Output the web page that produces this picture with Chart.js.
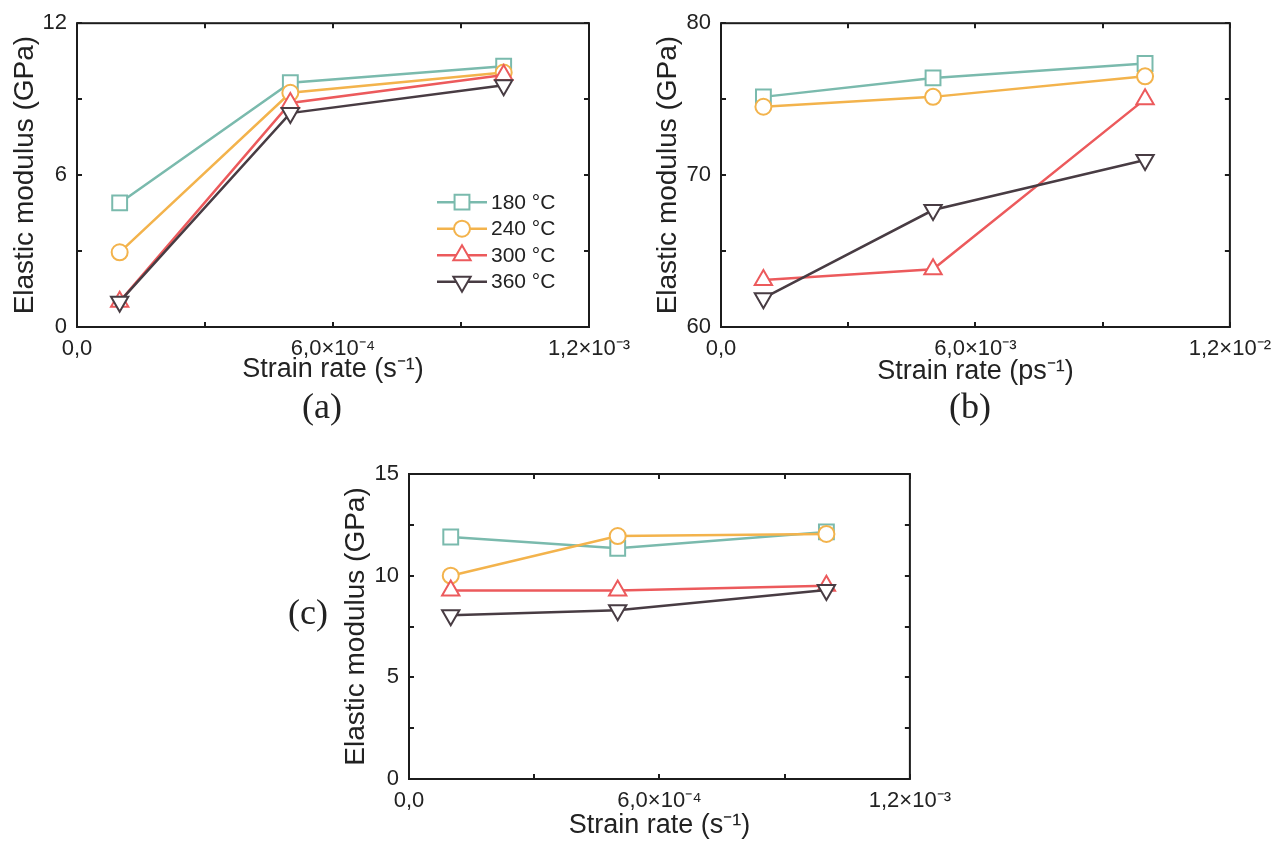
<!DOCTYPE html>
<html>
<head>
<meta charset="utf-8">
<title>Elastic modulus vs strain rate</title>
<script src="https://cdn.jsdelivr.net/npm/chart.js@4.4.1/dist/chart.umd.min.js"></script>
<style>
  body { margin: 0; background: #fff; }
  #page { position: relative; width: 1280px; height: 842px; overflow: hidden; background: #fff; }
  #page canvas { position: absolute; }
  .tag {
    position: absolute;
    font-family: 'Liberation Serif', 'Times New Roman', serif;
    font-size: 36px;
    color: #222;
    transform: translate(-50%, -50%);
  }
</style>
</head>
<body>
<div id="page">
  <canvas id="chart-a" width="660" height="400" style="left:0;top:0"></canvas>
  <canvas id="chart-b" width="640" height="400" style="left:640px;top:0"></canvas>
  <canvas id="chart-c" width="640" height="392" style="left:320px;top:450px"></canvas>
  <div class="tag" style="left:322px;top:406px">(a)</div>
  <div class="tag" style="left:970px;top:406px">(b)</div>
  <div class="tag" style="left:308px;top:612px">(c)</div>
</div>
<script>
/*********************************/
// series shared by the three panels
const SERIES = ['180 °C', '240 °C', '300 °C', '360 °C'];
const COLORS = ['#7abaad', '#f3b34c', '#ec5a5c', '#483c43'];
const POINT_STYLES = ['rect', 'circle', 'triangle', 'triangle'];
const POINT_ROT = [0, 0, 0, 180];
const POINT_RADIUS = [10.5, 8, 10, 10];

// (a) experimental, strain rate in s^-1
const RATE_A = [1e-4, 5e-4, 1e-3];
const MOD_A_180 = [4.9, 9.65, 10.3];
const MOD_A_240 = [2.95, 9.25, 10.05];
const MOD_A_300 = [1.0, 8.85, 9.95];
const MOD_A_360 = [1.0, 8.45, 9.55];

// (b) simulation, strain rate in ps^-1
const RATE_B = [1e-3, 5e-3, 1e-2];
const MOD_B_180 = [75.15, 76.4, 77.35];
const MOD_B_240 = [74.5, 75.15, 76.5];
const MOD_B_300 = [63.1, 63.8, 75.0];
const MOD_B_360 = [61.9, 67.7, 71.0];

// (c) strain rate in s^-1
const RATE_C = [1e-4, 5e-4, 1e-3];
const MOD_C_180 = [11.9, 11.35, 12.15];
const MOD_C_240 = [10.0, 11.95, 12.05];
const MOD_C_300 = [9.27, 9.27, 9.5];
const MOD_C_360 = [8.05, 8.3, 9.3];

// tick labels (empty = minor tick)
const X_TICKS_S = ['0,0', '', '6,0×10⁻⁴', '', '1,2×10⁻³'];
const X_TICKS_PS = ['0,0', '', '6,0×10⁻³', '', '1,2×10⁻²'];
const Y_TICKS_A = ['0', '', '6', '', '12'];
const Y_TICKS_B = ['60', '', '70', '', '80'];
const Y_TICKS_C = ['0', '', '5', '', '10', '', '15'];

const Y_TITLE = 'Elastic modulus (GPa)';
const X_TITLE_S = 'Strain rate (s⁻¹)';
const X_TITLE_PS = 'Strain rate (ps⁻¹)';

Chart.defaults.font.family = "'Liberation Sans', Arial, sans-serif";
Chart.defaults.color = '#222';

const TICK_LEN = 5;

// box with inward ticks on all four sides
const framePlugin = {
    id: 'frame',
    afterDraw(chart) {
        const { ctx, chartArea: a, scales: { x, y } } = chart;
        ctx.save();
        ctx.strokeStyle = '#1c1c1c';
        ctx.lineWidth = 2;
        ctx.strokeRect(a.left, a.top, a.right - a.left, a.bottom - a.top);
        ctx.beginPath();
        x.ticks.forEach(t => {
            const px = Math.round(x.getPixelForValue(t.value));
            ctx.moveTo(px, a.bottom); ctx.lineTo(px, a.bottom - TICK_LEN);
            ctx.moveTo(px, a.top); ctx.lineTo(px, a.top + TICK_LEN);
        });
        y.ticks.forEach(t => {
            const py = Math.round(y.getPixelForValue(t.value));
            ctx.moveTo(a.left, py); ctx.lineTo(a.left + TICK_LEN, py);
            ctx.moveTo(a.right, py); ctx.lineTo(a.right - TICK_LEN, py);
        });
        ctx.stroke();
        ctx.restore();
    }
};

// legend with the line running through the marker
const lineLegend = {
    id: 'lineLegend',
    afterDraw(chart, args, opts) {
        if (!opts.show) return;
        const { ctx, chartArea } = chart;
        ctx.save();
        chart.data.datasets.forEach((ds, i) => {
            const y = chartArea.top + opts.top + i * opts.step;
            const x0 = chartArea.right - opts.right;
            ctx.strokeStyle = ds.borderColor;
            ctx.lineWidth = ds.borderWidth;
            ctx.beginPath();
            ctx.moveTo(x0, y);
            ctx.lineTo(x0 + opts.lineLen, y);
            ctx.stroke();
            ctx.fillStyle = '#fff';
            ctx.lineWidth = ds.pointBorderWidth;
            Chart.helpers.drawPoint(ctx, {
                pointStyle: ds.pointStyle,
                radius: ds.pointRadius,
                rotation: ds.pointRotation,
                borderWidth: ds.pointBorderWidth
            }, x0 + opts.lineLen / 2, y);
            ctx.fillStyle = '#222';
            ctx.font = opts.font;
            ctx.textBaseline = 'middle';
            ctx.textAlign = 'left';
            ctx.fillText(ds.label, x0 + opts.lineLen + 4, y + 1);
        });
        ctx.restore();
    }
};

function make_datasets(xs, series) {
    return series.map((ys, i) => ({
        label: SERIES[i],
        data: xs.map((x, k) => ({ x: x, y: ys[k] })),
        borderColor: COLORS[i],
        borderWidth: 2.5,
        pointStyle: POINT_STYLES[i],
        pointRotation: POINT_ROT[i],
        pointRadius: POINT_RADIUS[i],
        pointBorderWidth: 2,
        pointBackgroundColor: '#fff',
        pointBorderColor: COLORS[i],
        tension: 0,
        order: 3 - i
    }));
}

// box = plot area inside the canvas, in canvas pixels
function add_panel(id, box, xs, series, xMax, xLabels, xTitle, yMin, yMax, yStep, yLabels, yTitlePad, legend) {
    const canvas = document.getElementById(id);
    const W = canvas.width, H = canvas.height;
    new Chart(canvas, {
        type: 'line',
        data: { datasets: make_datasets(xs, series) },
        plugins: [framePlugin, lineLegend],
        options: {
            responsive: false,
            animation: false,
            events: [],
            layout: {
                autoPadding: false,
                padding: { left: 0, top: box.top, right: W - box.right, bottom: 0 }
            },
            scales: {
                x: {
                    type: 'linear',
                    min: 0,
                    max: xMax,
                    afterBuildTicks: s => { s.ticks = xLabels.map((l, k) => ({ value: xMax * k / (xLabels.length - 1) })); },
                    afterFit: s => { s.height = H - box.bottom; },
                    grid: { display: false, drawTicks: false },
                    border: { display: false },
                    ticks: {
                        maxRotation: 0,
                        autoSkip: false,
                        padding: 9,
                        font: { size: 22 },
                        callback: (v, k) => xLabels[k]
                    },
                    title: {
                        display: true,
                        text: xTitle,
                        font: { size: 27 },
                        padding: { top: 0, bottom: box.xTitlePad }
                    }
                },
                y: {
                    type: 'linear',
                    min: yMin,
                    max: yMax,
                    afterBuildTicks: s => { s.ticks = yLabels.map((l, k) => ({ value: yMin + yStep * k })); },
                    afterFit: s => { s.width = box.left; },
                    grid: { display: false, drawTicks: false },
                    border: { display: false },
                    ticks: {
                        autoSkip: false,
                        padding: 10,
                        font: { size: 22 },
                        callback: (v, k) => yLabels[k]
                    },
                    title: {
                        display: true,
                        text: Y_TITLE,
                        font: { size: 28 },
                        padding: { top: yTitlePad, bottom: 0 }
                    }
                }
            },
            plugins: {
                legend: { display: false },
                tooltip: { enabled: false },
                lineLegend: legend || { show: false }
            }
        }
    });
}

add_panel('chart-a', { left: 77, top: 23, right: 589, bottom: 327, xTitlePad: 14 },
    RATE_A, [MOD_A_180, MOD_A_240, MOD_A_300, MOD_A_360],
    1.2e-3, X_TICKS_S, X_TITLE_S, 0, 12, 3, Y_TICKS_A, 8,
    { show: true, right: 152, lineLen: 50, top: 179, step: 26.5, font: "21px 'Liberation Sans', Arial, sans-serif" });

add_panel('chart-b', { left: 81, top: 23, right: 594, bottom: 327, xTitlePad: 12 },
    RATE_B, [MOD_B_180, MOD_B_240, MOD_B_300, MOD_B_360],
    1.2e-2, X_TICKS_PS, X_TITLE_PS, 60, 80, 5, Y_TICKS_B, 11);

add_panel('chart-c', { left: 89, top: 24, right: 602, bottom: 329, xTitlePad: 0 },
    RATE_C, [MOD_C_180, MOD_C_240, MOD_C_300, MOD_C_360],
    1.2e-3, X_TICKS_S, X_TITLE_S, 0, 15, 2.5, Y_TICKS_C, 19);
</script>
</body>
</html>
